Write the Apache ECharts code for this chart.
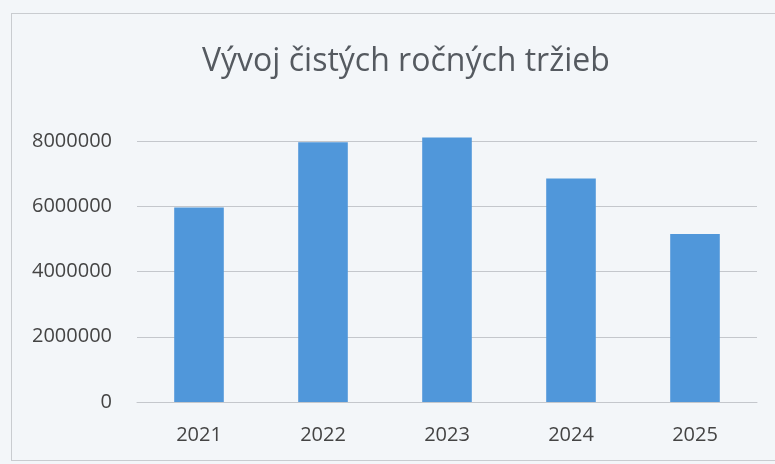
<!DOCTYPE html>
<html>
<head>
<meta charset="utf-8">
<script src="https://cdn.jsdelivr.net/npm/echarts@6/dist/echarts.min.js"></script>
<style>
    html, body { margin: 0; padding: 0; background: #f3f6f9; }
    #frame {
        position: absolute; left: 11px; top: 13px; width: 780px; height: 446px;
        border: 1px solid #c9ccd0;
    }
    #chart { position: absolute; left: 0; top: 0; width: 775px; height: 464px; }
</style>
</head>
<body>
<div id="frame"></div>
<div id="chart"></div>
<script>
var years = ['2021', '2022', '2023', '2024', '2025']
var trzby = [5960000, 7960000, 8110000, 6850000, 5150000]
// popisky osi y
var yTicks = [0, 2000000, 4000000, 6000000, 8000000]

var chart = echarts.init(document.getElementById('chart'), null, { renderer: 'canvas' })

chart.setOption({
    backgroundColor: 'transparent',
    title: {
        text: 'Vývoj čistých ročných tržieb',
        left: 197,
        top: 41,
        textStyle: {
            fontFamily: 'Open Sans',
            fontWeight: 'normal',
            fontSize: 32,
            color: '#555a60'
        }
    },
    grid: {
        left: 137,
        right: 18,
        top: 141,
        bottom: 62
    },
    xAxis: {
        type: 'category',
        data: years,
        axisLine: { show: true, lineStyle: { color: '#c4c7cc', width: 1 } },
        axisTick: { show: false },
        axisLabel: {
            fontFamily: 'Open Sans',
            fontSize: 20,
            color: '#444',
            margin: 23
        }
    },
    yAxis: {
        type: 'value',
        min: yTicks[0],
        max: yTicks[yTicks.length - 1],
        interval: 2000000,
        axisLine: { show: false },
        axisTick: { show: false },
        splitLine: { lineStyle: { color: '#c4c7cc', width: 1 } },
        axisLabel: {
            fontFamily: 'Open Sans',
            fontSize: 20,
            color: '#444',
            margin: 25,
            formatter: function (v) { return String(v) }
        }
    },
    series: [
        {
            type: 'bar',
            data: trzby,
            barWidth: '40%',
            clip: false,
            itemStyle: { color: '#5097da' }
        }
    ]
})
</script>
</body>
</html>
